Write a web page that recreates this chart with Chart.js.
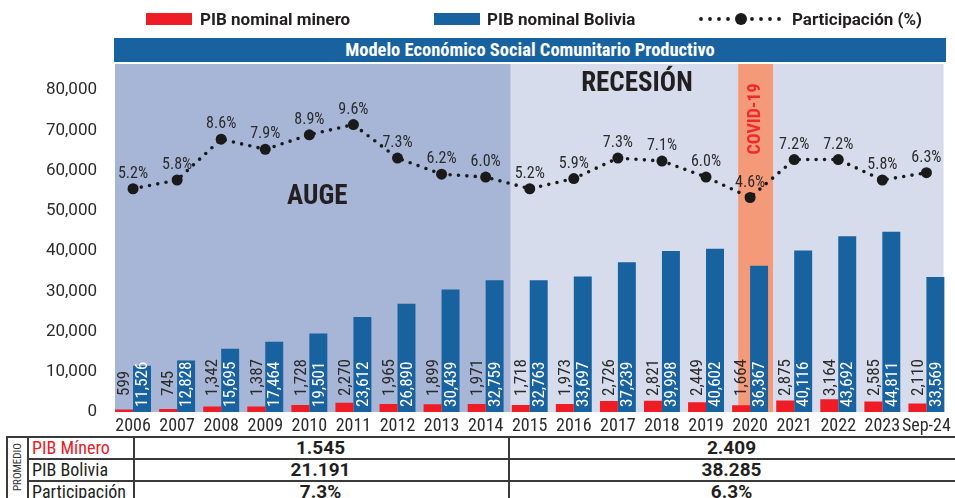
<!DOCTYPE html>
<html>
<head>
<meta charset="utf-8">
<script src="https://cdn.jsdelivr.net/npm/chart.js@4.4.1/dist/chart.umd.min.js"></script>
<style>
  html, body { margin: 0; padding: 0; background: #fff; }
  #wrap { position: relative; width: 955px; height: 498px; overflow: hidden; background: #fff; }
  #c { position: absolute; left: 0; top: 0; }
  .lg { position: absolute; font-family: Roboto, 'Noto Sans', sans-serif; font-weight: 700; font-size: 17px; color: #231f20; line-height: 20px; white-space: nowrap; }
  .sw { position: absolute; height: 12px; }
  #titlebar { position: absolute; left: 114px; top: 38px; width: 832px; height: 24px; background: #1862a0; color: #fff;
    font-family: 'Roboto Condensed', 'Liberation Sans Narrow', 'DejaVu Sans Condensed', sans-serif; font-weight: 700; font-size: 18.5px;
    line-height: 24px; text-align: center; white-space: nowrap; }
  .tl { position: absolute; background: #3a3a3a; }
  .tt { position: absolute; white-space: nowrap; line-height: 22px; }
  .lab { font-family: 'Roboto Condensed', 'Liberation Sans Narrow', 'DejaVu Sans Condensed', sans-serif; font-size: 18px; color: #231f20; left: 32px; }
  .val { font-family: Roboto, 'Noto Sans', sans-serif; font-weight: 700; font-size: 19px; color: #231f20; text-align: center; }
</style>
</head>
<body>
<div id="wrap">
  <canvas id="c" width="955" height="436"></canvas>

  <div class="sw" style="left:146px;top:13px;width:46px;background:#ee1c25;"></div>
  <div class="lg" style="left:200px;top:9px;">PIB nominal minero</div>
  <div class="sw" style="left:434px;top:13px;width:46px;background:#1862a0;"></div>
  <div class="lg" style="left:487px;top:9px;">PIB nominal Bolivia</div>
  <canvas id="lgline" width="84" height="14" style="position:absolute;left:698px;top:12px;"></canvas>
  <div class="lg" style="left:792px;top:9px;">Participación (%)</div>

  <div id="titlebar">Modelo Económico Social Comunitario Productivo</div>

  <div id="table"></div>
</div>

<script>
// ---------------- DATA ----------------
const categories = ['2006','2007','2008','2009','2010','2011','2012','2013','2014','2015','2016','2017','2018','2019','2020','2021','2022','2023','Sep-24'];
const pibMinero  = [599, 745, 1342, 1387, 1728, 2270, 1965, 1899, 1971, 1718, 1973, 2726, 2821, 2449, 1664, 2875, 3164, 2585, 2110];
const pibBolivia = [11526, 12828, 15695, 17464, 19501, 23612, 26890, 30439, 32759, 32763, 33697, 37239, 39998, 40602, 36367, 40116, 43692, 44811, 33569];
const participacion = [5.2, 5.8, 8.6, 7.9, 8.9, 9.6, 7.3, 6.2, 6.0, 5.2, 5.9, 7.3, 7.1, 6.0, 4.6, 7.2, 7.2, 5.8, 6.3];
const yTicks = [0, 10000, 20000, 30000, 40000, 50000, 60000, 70000, 80000];

const tableRows = ['PIB Mínero', 'PIB Bolivia', 'Participación'];
const promedioAuge = ['1.545', '21.191', '7.3%'];
const promedioRecesion = ['2.409', '38.285', '6.3%'];
const periodIndex = { augeEnd: 8, recesionStart: 9, covid: 14 };

// ---------------- STYLE ----------------
const COND = "'Roboto Condensed', 'Liberation Sans Narrow', 'DejaVu Sans Condensed', sans-serif";
const RED = '#ee1c25', BLUE = '#1862a0';
const fmt = v => v.toLocaleString('en-US');

// legend dotted symbol
(function(){
  const c = document.getElementById('lgline').getContext('2d');
  c.fillStyle = '#1a1a1a';
  [3, 12, 21, 30, 54, 63, 72, 81].forEach(x => { c.beginPath(); c.arc(x, 7, 1.9, 0, Math.PI*2); c.fill(); });
  c.beginPath(); c.arc(43, 7, 6, 0, Math.PI*2); c.fill();
})();

// table
(function(){
  const t = document.getElementById('table');
  let h = '';
  const top = 436, rh = 22;
  for (let r = 0; r < 4; r++) {
    const y = top + r*rh;
    h += `<div class="tl" style="left:${r===0?6:27}px;top:${y}px;width:${955-(r===0?6:27)}px;height:1.5px"></div>`;
  }
  [6, 27, 133, 508].forEach(x => { h += `<div class="tl" style="left:${x}px;top:${top}px;width:1.5px;height:70px"></div>`; });
  tableRows.forEach((lab, i) => {
    const y = top + i*rh + 1;
    h += `<div class="tt lab" style="top:${y}px;${i===0?'color:#e8202a':''}">${lab}</div>`;
    h += `<div class="tt val" style="left:133px;width:375px;top:${y}px">${promedioAuge[i]}</div>`;
    h += `<div class="tt val" style="left:508px;width:447px;top:${y}px">${promedioRecesion[i]}</div>`;
  });
  h += `<div style="position:absolute;left:16.5px;top:467px;transform:translate(-50%,-50%) rotate(-90deg);font-family:${COND.replace(/'/g,'&quot;')};font-size:11px;color:#333;white-space:nowrap">PROMEDIO</div>`;
  t.innerHTML = h;
})();

// ---------------- PLUGINS ----------------
const bandsPlugin = {
  id: 'bands',
  beforeDatasetsDraw(chart) {
    const { ctx, chartArea: a, scales: { x } } = chart;
    const w = x.getPixelForValue(1) - x.getPixelForValue(0);
    const left = x.getPixelForValue(0) - 0.41*w;
    const mid = x.getPixelForValue(periodIndex.recesionStart) - 0.43*w;
    const right = x.getPixelForValue(categories.length-1) + 0.39*w;
    const c0 = x.getPixelForValue(periodIndex.covid) - 0.27*w;
    const c1 = x.getPixelForValue(periodIndex.covid) + 0.52*w;
    ctx.save();
    ctx.fillStyle = '#a7b5d7'; ctx.fillRect(left, a.top, mid-left, a.bottom-a.top);
    ctx.fillStyle = '#d7dcec'; ctx.fillRect(mid, a.top, right-mid, a.bottom-a.top);
    ctx.fillStyle = '#f59a79'; ctx.fillRect(c0, a.top, c1-c0, a.bottom-a.top);
    ctx.fillStyle = '#231f20';
    ctx.font = `700 27px ${COND}`;
    ctx.textAlign = 'center'; ctx.textBaseline = 'middle';
    ctx.fillText('AUGE', x.getPixelForValue(4) + 0.18*w, a.top + 133);
    ctx.fillText('RECESIÓN', (x.getPixelForValue(11)+x.getPixelForValue(12))/2 - 3, a.top + 20);
    ctx.translate((c0+c1)/2, a.top + 55);
    ctx.rotate(-Math.PI/2);
    ctx.fillStyle = '#ee2a2a';
    ctx.font = `700 18px ${COND}`;
    ctx.fillText('COVID-19', 0, 0);
    ctx.restore();
  }
};

const labelsPlugin = {
  id: 'valueLabels',
  afterDatasetsDraw(chart) {
    const { ctx, scales: { y } } = chart;
    const y0 = y.getPixelForValue(0);
    ctx.save();
    ctx.font = `400 17px ${COND}`;
    ctx.textBaseline = 'middle';
    ctx.textAlign = 'left';
    chart.getDatasetMeta(0).data.forEach((b, i) => {
      ctx.save(); ctx.translate(b.x, y0 - 16); ctx.rotate(-Math.PI/2);
      ctx.fillStyle = '#2b2b2b'; ctx.fillText(fmt(pibMinero[i]), 0, 1); ctx.restore();
    });
    chart.getDatasetMeta(1).data.forEach((b, i) => {
      ctx.save(); ctx.translate(b.x, y0 - 5); ctx.rotate(-Math.PI/2);
      ctx.fillStyle = '#ffffff'; ctx.fillText(fmt(pibBolivia[i]), 0, 1); ctx.restore();
    });
    ctx.restore();
  },
  afterDraw(chart) {
    const { ctx } = chart;
    ctx.save();
    ctx.font = `400 16px ${COND}`;
    ctx.textBaseline = 'middle';
    ctx.textAlign = 'center';
    ctx.fillStyle = '#2b2b2b';
    chart.getDatasetMeta(2).data.forEach((p, i) => {
      ctx.fillText(participacion[i].toFixed(1) + '%', p.x, p.y - 15);
    });
    ctx.restore();
  }
};

// ---------------- CHART ----------------
new Chart(document.getElementById('c'), {
  data: {
    labels: categories,
    datasets: [
      { type: 'bar', label: 'PIB nominal minero', data: pibMinero, backgroundColor: RED, yAxisID: 'y', order: 2,
        barPercentage: 1, categoryPercentage: 0.815 },
      { type: 'bar', label: 'PIB nominal Bolivia', data: pibBolivia, backgroundColor: BLUE, yAxisID: 'y', order: 2,
        barPercentage: 1, categoryPercentage: 0.815 },
      { type: 'line', label: 'Participación (%)', data: participacion, yAxisID: 'y2', order: 0,
        borderColor: '#1a1a1a', borderWidth: 3.6, borderDash: [0, 8.4], borderCapStyle: 'round', tension: 0,
        pointRadius: 5.5, pointBackgroundColor: '#1a1a1a', pointBorderWidth: 0, fill: false }
    ]
  },
  options: {
    responsive: false,
    devicePixelRatio: 1,
    animation: false,
    layout: { padding: { top: 64, right: 4, left: 0, bottom: 0 } },
    plugins: { legend: { display: false }, tooltip: { enabled: false } },
    scales: {
      x: {
        grid: { display: false, drawTicks: false }, border: { display: false },
        ticks: { color: '#2b2b2b', font: { family: COND, size: 18 }, padding: 4, maxRotation: 0, autoSkip: false },
        afterFit: s => { s.height = 24; }
      },
      y: {
        min: 0, max: 86500,
        grid: { display: false }, border: { display: false },
        ticks: { color: '#2b2b2b', font: { family: 'Roboto', size: 17 }, padding: 6, callback: v => fmt(v) },
        afterBuildTicks: s => { s.ticks = yTicks.map(v => ({ value: v })); },
        afterFit: s => { s.width = 111; }
      },
      y2: { display: false, position: 'right', min: -10.1, max: 13.75 }
    }
  },
  plugins: [bandsPlugin, labelsPlugin]
});
</script>
</body>
</html>
